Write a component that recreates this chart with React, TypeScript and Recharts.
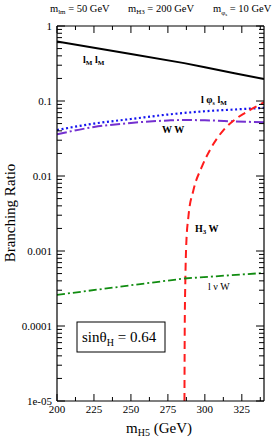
import { Line, LineChart, XAxis, YAxis } from 'recharts'

const SERIF = '"Liberation Serif", "Times New Roman", serif'

// branching ratios vs m_H5 (GeV)
const llMass = [200, 250, 286, 300, 320, 340]
const llBR = [0.62, 0.424, 0.32, 0.281, 0.234, 0.196]

const lPhiMass = [200, 225, 250, 275, 300, 320, 340]
const lPhiBR = [0.041, 0.05, 0.0575, 0.066, 0.073, 0.077, 0.081]

const wwMass = [200, 225, 250, 275, 286, 300, 320, 340]
const wwBR = [0.036, 0.045, 0.051, 0.055, 0.0558, 0.0553, 0.0535, 0.052]

const h3wMass = [286.2, 286.4, 286.8, 287.4, 288.9, 292.3, 298, 304.7, 312.6, 321.6, 330.6, 340]
const h3wBR = [1e-5, 1e-4, 4e-4, 0.0012, 0.0029, 0.0065, 0.0133, 0.0246, 0.041, 0.059, 0.076, 0.096]

const lnuMass = [200, 250, 286, 340]
const lnuBR = [2.6e-4, 3.49e-4, 4.3e-4, 5.1e-4]

const xMajor = [200, 225, 250, 275, 300, 325]
const xTicks = [200, 212.5, 225, 237.5, 250, 262.5, 275, 287.5, 300, 312.5, 325, 337.5]
const yMajor = [1e-5, 1e-4, 1e-3, 0.01, 0.1, 1]
const yLabels = ['1e-05', '0.0001', '0.001', '0.01', '0.1', '1']
const yTicks = yMajor.flatMap((d) => (d === 1 ? [1] : [1, 2, 3, 4, 5, 6, 7, 8, 9].map((k) => k * d)))

const pts = (xs: number[], ys: number[]) => xs.map((m, i) => ({ m, br: ys[i] }))

const yIndex = (v: number) => yMajor.findIndex((t) => Math.abs(v / t - 1) < 1e-9)

function LeftTick({ x, y, payload }: any) {
  const i = yIndex(payload.value)
  return (
    <g>
      <line x1={x} x2={x + (i >= 0 ? 8 : 5)} y1={y} y2={y} stroke="#000" />
      {i >= 0 && (
        <text x={x - 5} y={y + 4} textAnchor="end" fontSize={11} fontFamily={SERIF} fill="#000">
          {yLabels[i]}
        </text>
      )}
    </g>
  )
}

function RightTick({ x, y, payload }: any) {
  const major = yIndex(payload.value) >= 0
  return <line x1={x} x2={x - (major ? 8 : 5)} y1={y} y2={y} stroke="#000" />
}

function BottomTick({ x, y, payload }: any) {
  const major = xMajor.includes(payload.value)
  return (
    <g>
      <line x1={x} x2={x} y1={y} y2={y - (major ? 7 : 4)} stroke="#000" />
      {major && (
        <text x={x} y={y + 12} textAnchor="middle" fontSize={11} fontFamily={SERIF} fill="#000">
          {payload.value}
        </text>
      )}
    </g>
  )
}

function TopTick({ x, y, payload }: any) {
  const major = xMajor.includes(payload.value)
  return <line x1={x} x2={x} y1={y} y2={y + (major ? 7 : 4)} stroke="#000" />
}

const axisLine = { stroke: '#000', strokeWidth: 1.2 }

export default function App() {
  return (
    <div style={{ position: 'absolute', left: 0, top: 0, width: 273, height: 437, background: '#fff' }}>
      <LineChart width={273} height={437} margin={{ top: 0, right: 0, bottom: 0, left: 0 }}>
        <XAxis
          dataKey="m"
          type="number"
          domain={[200, 340]}
          ticks={xTicks}
          height={36}
          tickSize={0}
          tickMargin={0}
          interval={0}
          allowDataOverflow
          axisLine={axisLine}
          tickLine={false}
          tick={BottomTick}
        />
        <XAxis
          xAxisId="top"
          orientation="top"
          dataKey="m"
          type="number"
          domain={[200, 340]}
          ticks={xTicks}
          height={26}
          tickSize={0}
          tickMargin={0}
          interval={0}
          allowDataOverflow
          axisLine={axisLine}
          tickLine={false}
          tick={TopTick}
        />
        <YAxis
          type="number"
          scale="log"
          domain={[1e-5, 1]}
          ticks={yTicks}
          width={57}
          tickSize={0}
          tickMargin={0}
          interval={0}
          allowDataOverflow
          axisLine={axisLine}
          tickLine={false}
          tick={LeftTick}
        />
        <YAxis
          yAxisId="right"
          orientation="right"
          type="number"
          scale="log"
          domain={[1e-5, 1]}
          ticks={yTicks}
          width={9}
          tickSize={0}
          tickMargin={0}
          interval={0}
          allowDataOverflow
          axisLine={axisLine}
          tickLine={false}
          tick={RightTick}
        />
        <Line data={pts(llMass, llBR)} dataKey="br" type="linear" stroke="#000" strokeWidth={2} dot={false} isAnimationActive={false} />
        <Line data={pts(lPhiMass, lPhiBR)} dataKey="br" type="monotone" stroke="#1414f0" strokeWidth={2.2} strokeDasharray="2 2.6" dot={false} isAnimationActive={false} />
        <Line data={pts(wwMass, wwBR)} dataKey="br" type="monotone" stroke="#7430d0" strokeWidth={2} strokeDasharray="10 3 2 3" dot={false} isAnimationActive={false} />
        <Line data={pts(h3wMass, h3wBR)} dataKey="br" type="monotone" stroke="#ff1c1c" strokeWidth={2} strokeDasharray="8 5" dot={false} isAnimationActive={false} />
        <Line data={pts(lnuMass, lnuBR)} dataKey="br" type="linear" stroke="#108c10" strokeWidth={1.8} strokeDasharray="8 3 2 3" dot={false} isAnimationActive={false} />
      </LineChart>

      <svg width={273} height={437} style={{ position: 'absolute', left: 0, top: 0, pointerEvents: 'none' }} fontFamily={SERIF}>
        <text x={50} y={12} fontSize={10.5}>
          m<tspan fontSize={7} dy={2}>lm</tspan><tspan dy={-2}> = 50 GeV</tspan>
        </text>
        <text x={128} y={12} fontSize={10.5}>
          m<tspan fontSize={7} dy={2}>H3</tspan><tspan dy={-2}> = 200 GeV</tspan>
        </text>
        <text x={213} y={12} fontSize={10.5}>
          m<tspan fontSize={7} dy={3}>φ</tspan><tspan fontSize={5} dy={1}>s</tspan><tspan dy={-4}> = 10 GeV</tspan>
        </text>

        <text transform="translate(15 213) rotate(-90)" textAnchor="middle" fontSize={15}>
          Branching Ratio
        </text>
        <text x={126} y={433} fontSize={15}>
          m<tspan fontSize={10} dy={3}>H5</tspan><tspan dy={-3}> (GeV)</tspan>
        </text>

        <text x={83} y={63} fontSize={10} fontWeight="bold">
          l<tspan fontSize={7} dy={2}>M</tspan><tspan dy={-2}> l</tspan><tspan fontSize={7} dy={2}>M</tspan>
        </text>
        <text x={201} y={103} fontSize={10} fontWeight="bold">
          l φ<tspan fontSize={6} dy={2}>s</tspan><tspan dy={-2}> l</tspan><tspan fontSize={7} dy={2}>M</tspan>
        </text>
        <text x={162} y={133} fontSize={10} fontWeight="bold">
          W W
        </text>
        <text x={195} y={232} fontSize={10} fontWeight="bold">
          H<tspan fontSize={7} dy={2}>3</tspan><tspan dy={-2}> W</tspan>
        </text>
        <text x={208} y={290} fontSize={10}>
          l ν  W
        </text>

        <rect x={77} y={322} width={88} height={30} fill="#fff" stroke="#000" strokeWidth={1} />
        <text x={82} y={342} fontSize={15}>
          sinθ<tspan fontSize={10} dy={4}>H</tspan><tspan dy={-4}> = 0.64</tspan>
        </text>
      </svg>
    </div>
  )
}
